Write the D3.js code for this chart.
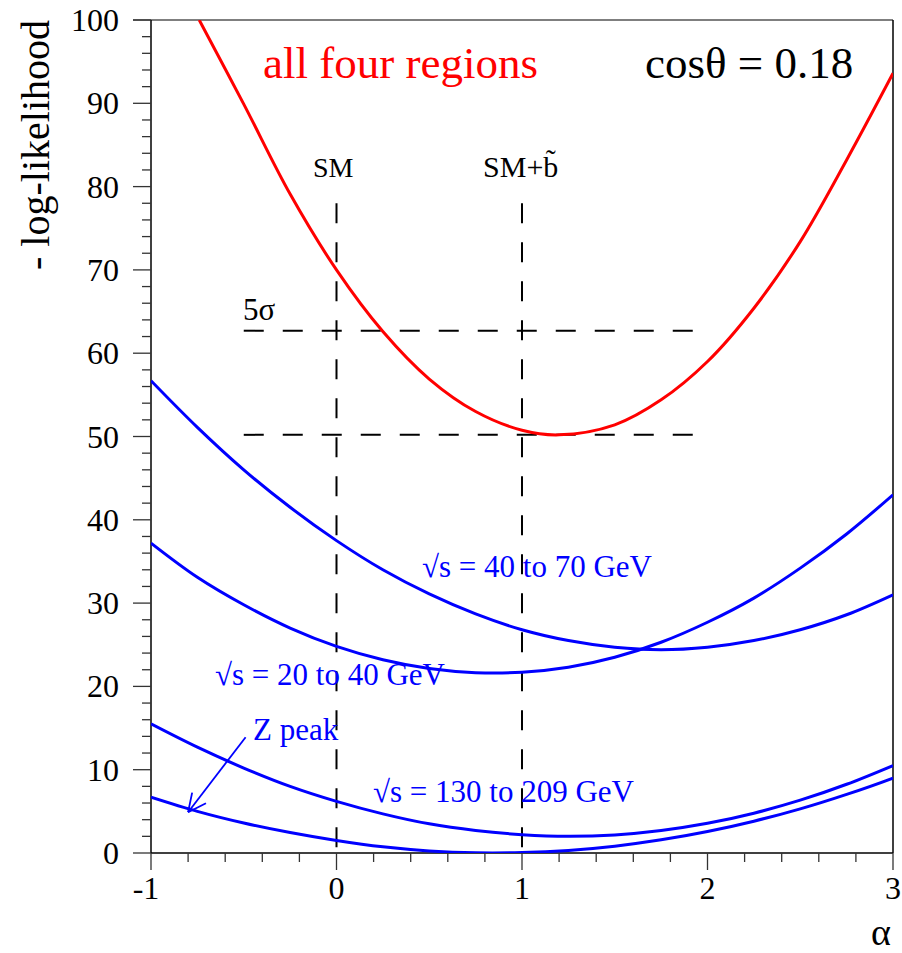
<!DOCTYPE html>
<html>
<head>
<meta charset="utf-8">
<script src="https://cdn.jsdelivr.net/npm/d3@7"></script>
<style>
  body { margin: 0; background: #fff; }
  text { font-family: "Liberation Serif", "Times New Roman", serif; }
</style>
</head>
<body>
<script>
// chart size
var w = 902, h = 953;

// alpha values where the curves were read
var alphaRed = [-0.74, -0.5, -0.25, 0, 0.25, 0.5, 0.75, 1.0, 1.2, 1.5, 1.75, 2.0, 2.25, 2.5, 2.75, 3.0];
var allFour  = [100, 89.9, 79.1, 70.0, 62.6, 56.9, 53.0, 50.75, 50.2, 51.4, 54.4, 59.0, 65.4, 73.4, 83.2, 93.6];

var alphaBlue = [-1, -0.75, -0.5, -0.25, 0, 0.25, 0.5, 0.75, 1, 1.25, 1.5, 1.75, 2, 2.25, 2.5, 2.75, 3];
var s40to70   = [56.7, 51.1, 46.0, 41.5, 37.5, 34.0, 31.1, 28.7, 26.8, 25.5, 24.7, 24.4, 24.7, 25.5, 26.8, 28.6, 31.0];
var s20to40   = [37.2, 33.1, 29.8, 27.0, 24.8, 23.2, 22.15, 21.65, 21.7, 22.3, 23.5, 25.3, 27.7, 30.6, 34.2, 38.3, 43.0];
var s130to209 = [15.5, 12.7, 10.2, 8.0, 6.2, 4.7, 3.5, 2.7, 2.2, 2.0, 2.17, 2.7, 3.56, 4.78, 6.34, 8.25, 10.5];
var zPeak     = [6.7, 5.0, 3.6, 2.45, 1.5, 0.74, 0.25, 0.02, 0.05, 0.31, 0.82, 1.58, 2.58, 3.82, 5.3, 7.04, 9.0];

// reference lines
var smLines = [0, 1];          // SM and SM+sbottom
var smTop = 78;
var hLines = [50.2, 62.7];     // minimum and minimum + 12.5 (5 sigma)
var hRange = [-0.5, 2.0];

var xTicks = [-1, 0, 1, 2, 3];
var yTicks = [0, 10, 20, 30, 40, 50, 60, 70, 80, 90, 100];

var svg = d3.select("body").append("svg")
    .attr("width", w)
    .attr("height", h);

var x = d3.scaleLinear().domain([-1, 3]).range([151, 893]);
var y = d3.scaleLinear().domain([0, 100]).range([853, 20]);

svg.append("clipPath").attr("id", "plotclip")
  .append("rect")
    .attr("x", x(-1)).attr("y", y(100))
    .attr("width", x(3) - x(-1)).attr("height", y(0) - y(100));

// frame: top and right
svg.append("line")
    .attr("x1", 133).attr("x2", x(3))
    .attr("y1", y(100)).attr("y2", y(100))
    .attr("stroke", "#555").attr("stroke-width", 1.5);
svg.append("line")
    .attr("x1", x(3)).attr("x2", x(3))
    .attr("y1", y(100)).attr("y2", y(0))
    .attr("stroke", "#000").attr("stroke-width", 1.5);

// y axis
var yAxis = svg.append("g").attr("transform", "translate(" + x(-1) + ",0)");
yAxis.append("line").attr("y1", y(0)).attr("y2", y(100)).attr("stroke", "#000").attr("stroke-width", 1.5);
yAxis.selectAll(".ymin").data(d3.range(0, 101, 2)).enter().append("line")
    .attr("x1", function(d){ return d % 10 === 0 ? -18 : -9; })
    .attr("x2", 0)
    .attr("y1", function(d){ return y(d); })
    .attr("y2", function(d){ return y(d); })
    .attr("stroke", "#333").attr("stroke-width", 1.3);
yAxis.selectAll(".ylab").data(yTicks).enter().append("text")
    .attr("x", -32)
    .attr("y", function(d){ return y(d) + 11; })
    .attr("text-anchor", "end")
    .style("font-size", "32px")
    .text(function(d){ return d; });

// x axis
var xAxis = svg.append("g").attr("transform", "translate(0," + y(0) + ")");
xAxis.append("line").attr("x1", x(-1)).attr("x2", x(3)).attr("stroke", "#000").attr("stroke-width", 1.5);
xAxis.selectAll(".xmin").data(d3.range(0, 21)).enter().append("line")
    .attr("x1", function(d){ return x(-1 + d * 0.2); })
    .attr("x2", function(d){ return x(-1 + d * 0.2); })
    .attr("y1", 0)
    .attr("y2", function(d){ return d % 5 === 0 ? 17 : 9; })
    .attr("stroke", "#333").attr("stroke-width", 1.3);
xAxis.selectAll(".xlab").data(xTicks).enter().append("text")
    .attr("x", function(d){ return x(d) - (d < 0 ? 5 : 0); })
    .attr("y", 46)
    .attr("text-anchor", "middle")
    .style("font-size", "32px")
    .text(function(d){ return d; });

svg.append("text")
    .attr("x", 891).attr("y", 945)
    .attr("text-anchor", "end")
    .style("font-size", "38px")
    .text("α");

svg.append("text")
    .attr("transform", "translate(49,20) rotate(-90)")
    .attr("text-anchor", "end")
    .style("font-size", "40px")
    .text("- log-likelihood");

// dashed reference lines
svg.selectAll(".vline").data(smLines).enter().append("line")
    .attr("x1", function(d){ return x(d); })
    .attr("x2", function(d){ return x(d); })
    .attr("y1", y(smTop)).attr("y2", y(0))
    .attr("stroke", "#000").attr("stroke-width", 2)
    .attr("stroke-dasharray", "20,19");
svg.selectAll(".hline").data(hLines).enter().append("line")
    .attr("x1", x(hRange[0])).attr("x2", x(hRange[1]))
    .attr("y1", function(d){ return y(d); })
    .attr("y2", function(d){ return y(d); })
    .attr("stroke", "#000").attr("stroke-width", 2)
    .attr("stroke-dasharray", "20,19");

// curves
var line = d3.line()
    .x(function(d){ return x(d[0]); })
    .y(function(d){ return y(d[1]); })
    .curve(d3.curveCatmullRom);

var curves = [
  { a: alphaRed, v: allFour, color: "#ff0000" },
  { a: alphaBlue, v: s40to70, color: "#0000ff" },
  { a: alphaBlue, v: s20to40, color: "#0000ff" },
  { a: alphaBlue, v: s130to209, color: "#0000ff" },
  { a: alphaBlue, v: zPeak, color: "#0000ff" }
];
svg.append("g").attr("clip-path", "url(#plotclip)")
  .selectAll("path").data(curves).enter().append("path")
    .attr("d", function(c){ return line(d3.zip(c.a, c.v)); })
    .attr("fill", "none")
    .attr("stroke", function(c){ return c.color; })
    .attr("stroke-width", 3);

// labels
var labels = [
  { t: "all four regions", a: -0.396, v: 93.0, size: 45, color: "#ff0000" },
  { t: "cosθ = 0.18", a: 1.663, v: 93.0, size: 45, color: "#000" },
  { t: "SM", a: -0.127, v: 81.15, size: 28, color: "#000" },
  { t: "SM+b\u0303", a: 0.79, v: 81.15, size: 30, color: "#000" },
  { t: "5σ", a: -0.504, v: 64.0, size: 31, color: "#000" },
  { t: "√s = 40 to 70 GeV", a: 0.461, v: 33.1, size: 31, color: "#0000ff" },
  { t: "√s = 20 to 40 GeV", a: -0.655, v: 20.2, size: 31, color: "#0000ff" },
  { t: "Z peak", a: -0.45, v: 13.6, size: 31, color: "#0000ff" },
  { t: "√s = 130 to 209 GeV", a: 0.197, v: 6.1, size: 31, color: "#0000ff" }
];
svg.selectAll(".lab").data(labels).enter().append("text")
    .attr("x", function(d){ return x(d.a); })
    .attr("y", function(d){ return y(d.v); })
    .attr("fill", function(d){ return d.color; })
    .style("font-size", function(d){ return d.size + "px"; })
    .text(function(d){ return d.t; });

// Z peak arrow
var arrowFrom = [-0.49, 13.9], arrowTo = [-0.8, 4.9];
var x0 = x(arrowFrom[0]), y0 = y(arrowFrom[1]), x1 = x(arrowTo[0]), y1 = y(arrowTo[1]);
var ang = Math.atan2(y1 - y0, x1 - x0);
svg.append("line")
    .attr("x1", x0).attr("y1", y0).attr("x2", x1).attr("y2", y1)
    .attr("stroke", "#0000ff").attr("stroke-width", 1.8);
[0.45, -0.45].forEach(function(da){
  svg.append("line")
      .attr("x1", x1).attr("y1", y1)
      .attr("x2", x1 - 20 * Math.cos(ang + da))
      .attr("y2", y1 - 20 * Math.sin(ang + da))
      .attr("stroke", "#0000ff").attr("stroke-width", 1.8);
});
</script>
</body>
</html>
